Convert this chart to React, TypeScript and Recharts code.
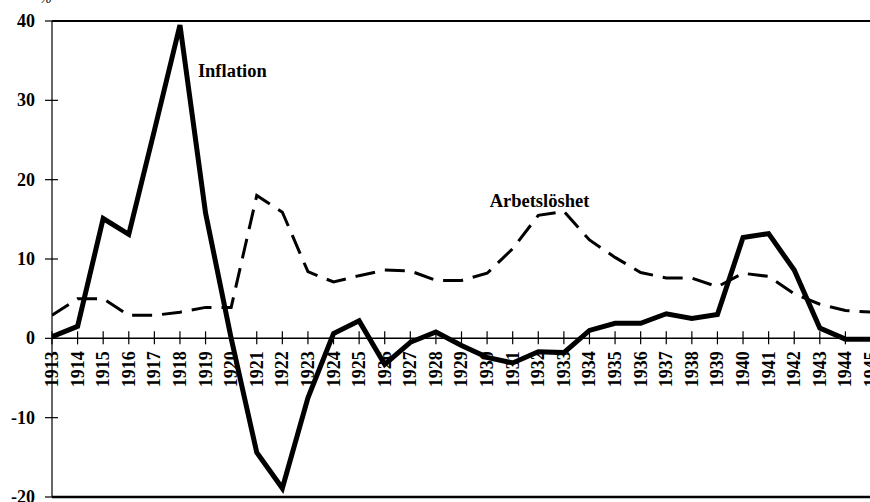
import React from 'react';
import { LineChart, Line, XAxis, YAxis, ReferenceLine, ReferenceDot } from 'recharts';

const years = [
  1913, 1914, 1915, 1916, 1917, 1918, 1919, 1920, 1921, 1922, 1923, 1924, 1925, 1926, 1927, 1928, 1929,
  1930, 1931, 1932, 1933, 1934, 1935, 1936, 1937, 1938, 1939, 1940, 1941, 1942, 1943, 1944, 1945,
];
const inflation = [
  0.2, 1.5, 15.1, 13.1, 26.2, 39.5, 15.8, 0.0, -14.4, -18.9, -7.5, 0.6, 2.2, -3.3, -0.5, 0.8, -0.9,
  -2.4, -3.1, -1.7, -1.8, 1.0, 1.9, 1.9, 3.1, 2.5, 3.0, 12.7, 13.2, 8.6, 1.3, -0.1, -0.1,
];
const unemployment = [
  2.9, 5.0, 5.0, 2.9, 2.9, 3.3, 3.9, 3.9, 18.0, 15.9, 8.4, 7.1, 7.9, 8.6, 8.5, 7.3, 7.3,
  8.2, 11.3, 15.5, 16.0, 12.4, 10.2, 8.3, 7.6, 7.6, 6.5, 8.2, 7.8, 5.6, 4.3, 3.5, 3.3,
];
const yTicks = [-20, -10, 0, 10, 20, 30, 40];
const seriesNames = { inflation: 'Inflation', unemployment: 'Arbetslöshet' };

const data = years.map((year, i) => ({
  year,
  inflation: inflation[i],
  unemployment: unemployment[i],
}));

const FONT = '"Liberation Serif", "Times New Roman", serif';

const YearTick = (year: number) => (props: any) => {
  const { cx, cy } = props;
  return (
    <g>
      <line x1={cx} x2={cx} y1={cy - 7} y2={cy + 6} stroke="#000" strokeWidth={1.2} />
      <text
        x={cx}
        y={cy + 13}
        transform={`rotate(-90 ${cx} ${cy + 13})`}
        textAnchor="end"
        dominantBaseline="central"
        fontFamily={FONT}
        fontWeight="bold"
        fontSize={18}
        fill="#000"
      >
        {year}
      </text>
    </g>
  );
};

const YTickMark = (props: any) => {
  const { cx, cy } = props;
  return <line x1={cx - 7} x2={cx + 6} y1={cy} y2={cy} stroke="#000" strokeWidth={1.2} />;
};

const Annotation = (text: string) => (props: any) => {
  const { cx, cy } = props;
  return (
    <text x={cx} y={cy} fontFamily={FONT} fontWeight="bold" fontSize={18.5} fill="#000">
      {text}
    </text>
  );
};

const YLabel = (props: any) => {
  const { x, y, payload } = props;
  return (
    <text
      x={x}
      y={y}
      textAnchor="end"
      dominantBaseline="central"
      fontFamily={FONT}
      fontWeight="bold"
      fontSize={18}
      fill="#000"
    >
      {payload.value}
    </text>
  );
};

export default function App() {
  return (
    <div
      style={{
        position: 'absolute',
        left: 0,
        top: 0,
        width: 870,
        height: 502,
        overflow: 'hidden',
        background: '#fff',
      }}
    >
      <LineChart width={880} height={502} data={data} margin={{ top: 21, right: 9, bottom: 5, left: 0 }}>
        <XAxis dataKey="year" type="number" domain={[1913, 1945]} hide allowDataOverflow />
        <YAxis
          type="number"
          domain={[-20, 40]}
          ticks={yTicks}
          interval={0}
          width={52}
          axisLine={{ stroke: '#000', strokeWidth: 1.2 }}
          tickLine={false}
          tickSize={6}
          tickMargin={11}
          tick={<YLabel />}
          allowDataOverflow
        />
        <ReferenceLine y={40} stroke="#000" strokeWidth={2} ifOverflow="visible" />
        <ReferenceLine y={-20} stroke="#000" strokeWidth={2.5} ifOverflow="visible" />
        <ReferenceLine y={0} stroke="#000" strokeWidth={1.5} />
        {yTicks.map((v) => (
          <ReferenceDot key={'yt' + v} x={1913} y={v} r={0} ifOverflow="visible" shape={YTickMark} />
        ))}
        {years.map((yr) => (
          <ReferenceDot key={'xt' + yr} x={yr} y={0} r={0} ifOverflow="visible" shape={YearTick(yr)} />
        ))}
        <Line
          type="linear"
          dataKey="unemployment"
          stroke="#000"
          strokeWidth={3}
          strokeDasharray="20 10"
          dot={false}
          isAnimationActive={false}
        />
        <Line
          type="linear"
          dataKey="inflation"
          stroke="#000"
          strokeWidth={5}
          dot={false}
          isAnimationActive={false}
        />
        <ReferenceDot x={1918.7} y={33.0} r={0} ifOverflow="visible" shape={Annotation(seriesNames.inflation)} />
        <ReferenceDot x={1930.1} y={16.5} r={0} ifOverflow="visible" shape={Annotation(seriesNames.unemployment)} />
      </LineChart>
      <div
        style={{
          position: 'absolute',
          left: 40,
          top: -9,
          fontFamily: FONT,
          fontStyle: 'italic',
          fontSize: 14,
          color: '#000',
        }}
      >
        %
      </div>
    </div>
  );
}
